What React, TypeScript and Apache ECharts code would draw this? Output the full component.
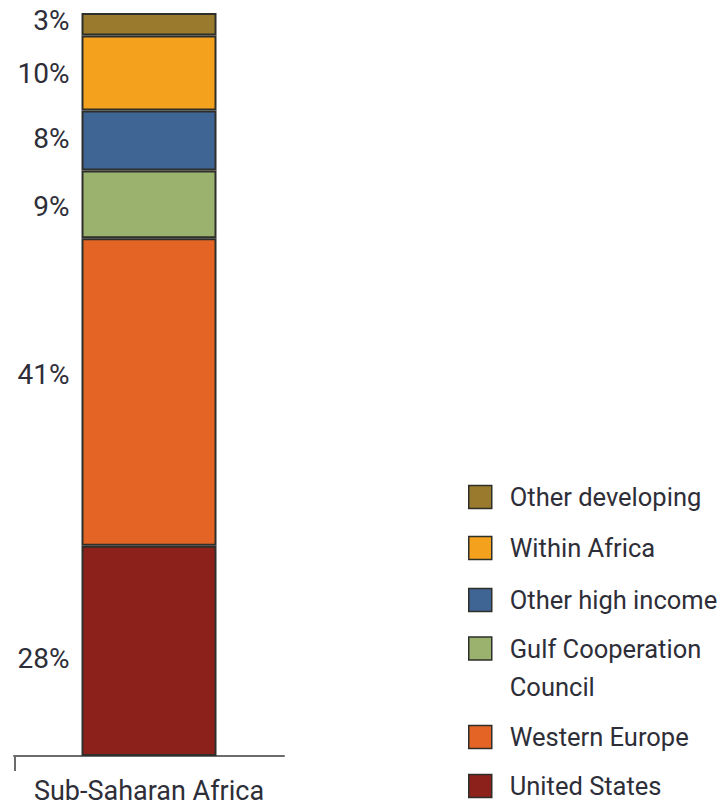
import React, { useEffect, useRef } from "react";
import * as echarts from "echarts";

const categories = ["Sub-Saharan Africa"];
const seriesNames = [
  "United States",
  "Western Europe",
  "Gulf Cooperation Council",
  "Other high income",
  "Within Africa",
  "Other developing",
];
const seriesValues = [28, 41, 9, 8, 10, 3];
const seriesColors = ["#8c211c", "#e36424", "#9bb26f", "#3f6595", "#f4a21d", "#9a7a2c"];
const labelOffsets = [8, -18, 2, -2, 0, -4];
const legendOrder = [
  "Other developing",
  "Within Africa",
  "Other high income",
  "Gulf Cooperation Council",
  "Western Europe",
  "United States",
];
const legendLabels = [
  "Other developing",
  "Within Africa",
  "Other high income",
  "Gulf Cooperation\nCouncil",
  "Western Europe",
  "United States",
];
const legendTops = [484, 535, 587, 637, 724, 773];

const FONT = "Roboto";
const TEXT = "#2e2e38";

export default function App() {
  const ref = useRef<HTMLDivElement>(null);
  useEffect(() => {
    if (!ref.current) return;
    const chart = echarts.init(ref.current, undefined, { renderer: "svg" });
    const series = seriesNames.map((name, i) => ({
      name,
      type: "bar",
      stack: "total",
      barWidth: 135,
      data: [seriesValues[i]],
      itemStyle: { color: seriesColors[i], borderColor: "#2e2e2a", borderWidth: 2 },
      label: {
        show: true,
        position: "left",
        distance: 12,
        offset: [0, labelOffsets[i]],
        formatter: "{c}%",
        fontFamily: FONT,
        fontSize: 28,
        color: TEXT,
      },
    }));
    const legends = legendOrder.map((name, i) => {
      const twoLine = legendLabels[i].includes("\n");
      const lh = twoLine ? 38 : 23;
      // a leading blank line keeps the first text line level with the swatch
      const text = twoLine ? "\n" + legendLabels[i] : legendLabels[i];
      const boxH = lh * (twoLine ? 3 : 1);
      const shift = Math.max(0, boxH / 2 - 11.5);
      return {
        left: 468,
        top: legendTops[i] - shift,
        padding: 0,
        orient: "vertical",
        data: [name],
        itemWidth: 23,
        itemHeight: 23,
        selectedMode: false,
        icon: "rect",
        itemStyle: { borderColor: "#2e2e2a", borderWidth: 1.5 },
        formatter: () => text,
        textStyle: {
          fontFamily: FONT,
          fontSize: 25.5,
          color: TEXT,
          lineHeight: lh,
          padding: [0, 0, 0, 13],
        },
      };
    });
    chart.setOption({
      animation: false,
      grid: { left: 14, top: 13, width: 270, bottom: 51, containLabel: false },
      xAxis: {
        type: "category",
        data: categories,
        axisLine: { show: true, lineStyle: { color: "#6b6b6b", width: 2 } },
        axisTick: { show: false },
        axisLabel: {
          fontFamily: FONT,
          fontSize: 27,
          color: TEXT,
          margin: 21,
        },
      },
      yAxis: {
        type: "value",
        min: 0,
        max: 99,
        show: false,
        splitLine: { show: false },
      },
      legend: legends,
      graphic: [
        {
          type: "line",
          shape: { x1: 15, y1: 756, x2: 15, y2: 771 },
          style: { stroke: "#6b6b6b", lineWidth: 2 },
        },
      ],
      series,
    });
    return () => chart.dispose();
  }, []);
  return (
    <div
      ref={ref}
      style={{ position: "fixed", left: 0, top: 0, width: 720, height: 807, background: "#fff" }}
    />
  );
}
